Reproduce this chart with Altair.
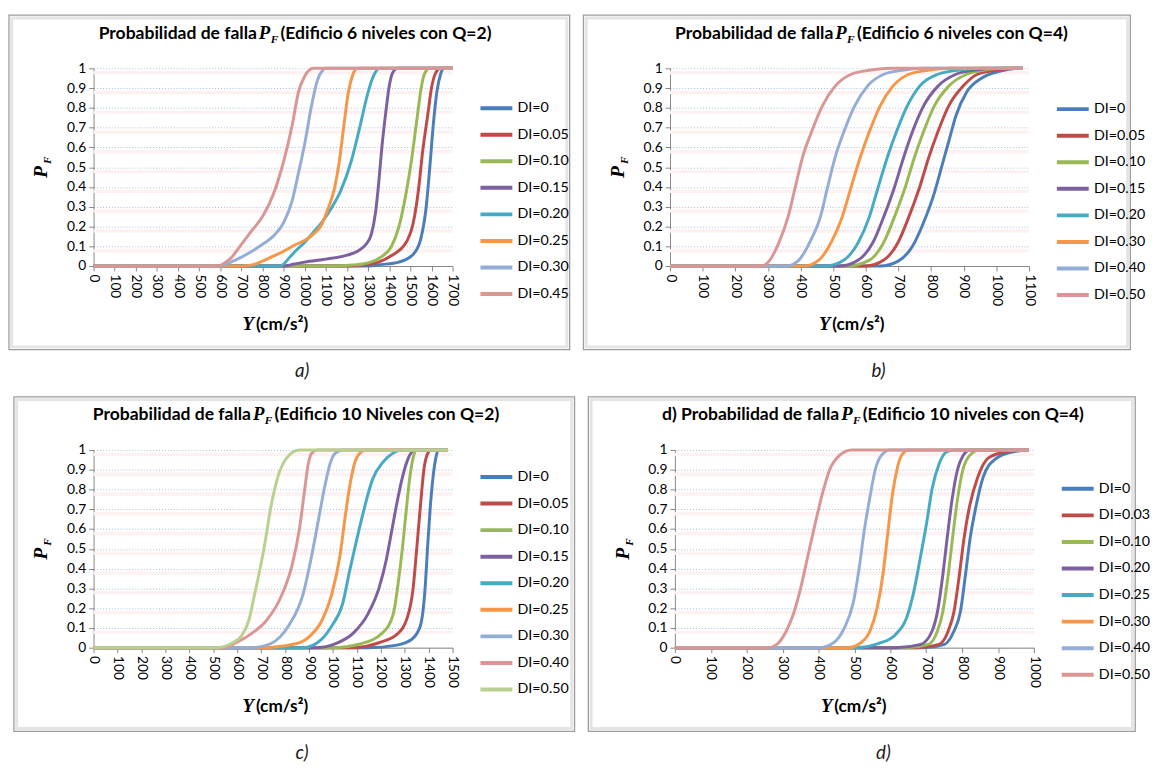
import altair as alt
import pandas as pd

W, H = 365, 201

COLORS = ["#4a7ebb", "#be4b48", "#98b954", "#7d60a0", "#46aac5",
          "#f79646", "#93aed6", "#d99694", "#b9d18f"]

Y_TICKS = [0, 0.1, 0.2, 0.3, 0.4, 0.5, 0.6, 0.7, 0.8, 0.9, 1]
PINK_BANDS = [0.1, 0.2, 0.3, 0.4, 0.5, 0.6, 0.7, 0.8, 0.9, 1]

# ---------------- panel a: Edificio 6 niveles, Q=2 ----------------
A_XTICKS = [0, 100, 200, 300, 400, 500, 600, 700, 800, 900, 1000, 1100, 1200,
            1300, 1400, 1500, 1600, 1700]
A_LABELS = ["DI=0", "DI=0.05", "DI=0.10", "DI=0.15", "DI=0.20", "DI=0.25",
            "DI=0.30", "DI=0.45"]
A_Y = [
    [0, 1300, 1360, 1446, 1514, 1549, 1575, 1592, 1609, 1626, 1643, 1660, 1700],
    [0, 1200, 1274, 1350, 1411, 1480, 1514, 1540, 1557, 1583, 1600, 1617, 1643, 1700],
    [0, 1100, 1200, 1274, 1360, 1411, 1446, 1480, 1506, 1532, 1549, 1566, 1592, 1700],
    [0, 900, 950, 1000, 1100, 1200, 1250, 1290, 1315, 1335, 1350, 1365, 1385, 1400, 1415, 1440, 1700],
    [0, 880, 900, 925, 960, 1000, 1040, 1080, 1130, 1170, 1220, 1260, 1300, 1325, 1355, 1700],
    [0, 700, 750, 800, 850, 900, 950, 1000, 1040, 1080, 1110, 1140, 1165, 1185, 1205, 1225, 1250, 1700],
    [0, 600, 650, 700, 750, 800, 850, 900, 940, 970, 1000, 1030, 1060, 1085, 1100, 1700],
    [0, 590, 620, 650, 700, 750, 800, 850, 900, 940, 970, 1000, 1040, 1700],
]
A_PF = [
    [0, 0, 0.007, 0.02, 0.06, 0.136, 0.3, 0.5, 0.72, 0.885, 0.97, 1, 1],
    [0, 0, 0.005, 0.02, 0.053, 0.12, 0.22, 0.4, 0.57, 0.77, 0.9, 0.97, 1, 1],
    [0, 0, 0.003, 0.01, 0.045, 0.1, 0.2, 0.37, 0.54, 0.75, 0.885, 0.97, 1, 1],
    [0, 0, 0.01, 0.02, 0.035, 0.055, 0.075, 0.11, 0.16, 0.27, 0.42, 0.6, 0.79, 0.91, 0.975, 1, 1],
    [0, 0, 0.01, 0.04, 0.08, 0.12, 0.17, 0.22, 0.3, 0.38, 0.53, 0.7, 0.88, 0.96, 1, 1],
    [0, 0, 0.005, 0.025, 0.05, 0.075, 0.105, 0.13, 0.16, 0.21, 0.29, 0.39, 0.54, 0.71, 0.87, 0.96, 1, 1],
    [0, 0, 0.02, 0.045, 0.075, 0.11, 0.15, 0.22, 0.33, 0.47, 0.62, 0.8, 0.94, 0.99, 1, 1],
    [0, 0, 0.015, 0.04, 0.11, 0.18, 0.25, 0.36, 0.53, 0.71, 0.88, 0.96, 1, 1],
]

# ---------------- panel b: Edificio 6 niveles, Q=4 ----------------
B_XTICKS = [0, 100, 200, 300, 400, 500, 600, 700, 800, 900, 1000, 1100]
B_LABELS = ["DI=0", "DI=0.05", "DI=0.10", "DI=0.15", "DI=0.20", "DI=0.30",
            "DI=0.40", "DI=0.50"]
B_Y = [
    [0, 644, 699, 743, 777, 810, 832, 854, 876, 909, 954, 1009, 1075, 1080],
    [0, 600, 655, 699, 732, 765, 793, 821, 854, 898, 942, 1000, 1060, 1080],
    [0, 544, 611, 655, 688, 721, 749, 777, 810, 854, 909, 960, 1020, 1080],
    [0, 522, 577, 622, 655, 688, 716, 743, 777, 821, 876, 930, 1000, 1080],
    [0, 478, 533, 577, 611, 638, 666, 694, 727, 765, 821, 880, 960, 1080],
    [0, 411, 456, 494, 528, 555, 583, 611, 644, 683, 732, 790, 860, 1080],
    [0, 356, 395, 428, 461, 483, 506, 533, 566, 605, 655, 710, 780, 1080],
    [0, 279, 306, 334, 362, 384, 406, 434, 467, 506, 555, 610, 680, 1080],
]
B_PF = [
    [0, 0, 0.025, 0.1, 0.22, 0.37, 0.5, 0.63, 0.76, 0.88, 0.95, 0.985, 1, 1],
    [0, 0, 0.03, 0.12, 0.25, 0.4, 0.55, 0.68, 0.81, 0.91, 0.97, 0.99, 1, 1],
    [0, 0, 0.03, 0.12, 0.25, 0.4, 0.55, 0.68, 0.81, 0.91, 0.97, 0.99, 1, 1],
    [0, 0, 0.03, 0.12, 0.25, 0.4, 0.55, 0.68, 0.81, 0.91, 0.97, 0.99, 1, 1],
    [0, 0, 0.03, 0.12, 0.25, 0.4, 0.55, 0.68, 0.81, 0.91, 0.97, 0.99, 1, 1],
    [0, 0, 0.03, 0.12, 0.25, 0.4, 0.55, 0.68, 0.81, 0.91, 0.97, 0.99, 1, 1],
    [0, 0, 0.03, 0.12, 0.25, 0.4, 0.55, 0.68, 0.81, 0.91, 0.97, 0.99, 1, 1],
    [0, 0, 0.03, 0.12, 0.25, 0.4, 0.55, 0.68, 0.81, 0.91, 0.97, 0.99, 1, 1],
]

# ---------------- panel c: Edificio 10 niveles, Q=2 ----------------
C_XTICKS = [0, 100, 200, 300, 400, 500, 600, 700, 800, 900, 1000, 1100, 1200,
            1300, 1400, 1500]
C_LABELS = ["DI=0", "DI=0.05", "DI=0.10", "DI=0.15", "DI=0.20", "DI=0.25",
            "DI=0.30", "DI=0.40", "DI=0.50"]
C_Y = [
    [0, 1146, 1267, 1327, 1365, 1385, 1395, 1406, 1418, 1430, 1440, 1480],
    [0, 1086, 1192, 1267, 1312, 1335, 1350, 1365, 1380, 1395, 1410, 1480],
    [0, 995, 1116, 1207, 1252, 1274, 1290, 1305, 1320, 1335, 1350, 1480],
    [0, 935, 1011, 1086, 1146, 1192, 1222, 1244, 1267, 1290, 1312, 1342, 1480],
    [0, 875, 950, 995, 1040, 1070, 1100, 1130, 1165, 1210, 1252, 1282, 1480],
    [0, 694, 845, 905, 955, 995, 1030, 1052, 1072, 1092, 1118, 1135, 1480],
    [0, 664, 739, 814, 875, 912, 943, 965, 988, 1011, 1041, 1480],
    [0, 543, 603, 664, 724, 784, 830, 860, 882, 897, 912, 935, 1480],
    [0, 513, 573, 618, 649, 671, 694, 716, 739, 769, 807, 860, 1480],
]
C_PF = [
    [0, 0, 0.013, 0.04, 0.11, 0.3, 0.5, 0.7, 0.86, 0.96, 1, 1],
    [0, 0, 0.025, 0.067, 0.157, 0.3, 0.5, 0.71, 0.9, 0.98, 1, 1],
    [0, 0, 0.02, 0.075, 0.17, 0.34, 0.5, 0.68, 0.85, 0.96, 1, 1],
    [0, 0, 0.02, 0.075, 0.17, 0.3, 0.44, 0.58, 0.73, 0.86, 0.95, 1, 1],
    [0, 0, 0.04, 0.11, 0.22, 0.39, 0.55, 0.7, 0.85, 0.94, 0.985, 1, 1],
    [0, 0, 0.02, 0.06, 0.14, 0.27, 0.47, 0.67, 0.83, 0.94, 0.99, 1, 1],
    [0, 0, 0.02, 0.11, 0.27, 0.47, 0.67, 0.81, 0.93, 0.985, 1, 1],
    [0, 0, 0.03, 0.075, 0.14, 0.26, 0.42, 0.6, 0.8, 0.93, 0.985, 1, 1],
    [0, 0, 0.02, 0.06, 0.14, 0.26, 0.39, 0.53, 0.7, 0.86, 0.96, 1, 1],
]

# ---------------- panel d: Edificio 10 niveles, Q=4 ----------------
D_XTICKS = [0, 100, 200, 300, 400, 500, 600, 700, 800, 900, 1000]
D_LABELS = ["DI=0", "DI=0.03", "DI=0.10", "DI=0.20", "DI=0.25", "DI=0.30",
            "DI=0.40", "DI=0.50"]
D_Y = [
    [0, 695, 751, 777, 795, 809, 822, 838, 858, 893, 939, 985],
    [0, 675, 736, 761, 777, 792, 805, 820, 843, 873, 919, 980, 985],
    [0, 645, 706, 731, 746, 761, 773, 787, 802, 820, 848, 985],
    [0, 614, 685, 716, 731, 746, 758, 772, 787, 802, 822, 985],
    [0, 503, 574, 614, 645, 665, 685, 701, 716, 736, 756, 777, 985],
    [0, 482, 518, 543, 563, 579, 592, 604, 616, 629, 650, 985],
    [0, 401, 442, 472, 497, 513, 528, 543, 558, 574, 599, 985],
    [0, 259, 284, 310, 330, 350, 371, 391, 411, 431, 457, 492, 985],
]
D_PF = [
    [0, 0, 0.017, 0.083, 0.18, 0.365, 0.55, 0.71, 0.86, 0.955, 0.99, 1],
    [0, 0, 0.017, 0.083, 0.18, 0.365, 0.55, 0.71, 0.86, 0.96, 0.99, 1, 1],
    [0, 0, 0.017, 0.083, 0.18, 0.365, 0.55, 0.75, 0.9, 0.97, 1, 1],
    [0, 0, 0.017, 0.083, 0.18, 0.365, 0.55, 0.75, 0.9, 0.97, 1, 1],
    [0, 0, 0.025, 0.066, 0.15, 0.28, 0.47, 0.63, 0.8, 0.93, 0.99, 1, 1],
    [0, 0, 0.025, 0.083, 0.2, 0.365, 0.565, 0.75, 0.88, 0.965, 1, 1],
    [0, 0, 0.025, 0.1, 0.23, 0.4, 0.6, 0.76, 0.9, 0.97, 1, 1],
    [0, 0, 0.017, 0.083, 0.17, 0.3, 0.47, 0.63, 0.78, 0.9, 0.97, 1, 1],
]

SANS = "Lato"
SERIF = "Liberation Serif"
BT, BB = -54, 286
TFS = 17.8   # title font size


def panel(labels, ys_list, pfs_list, xticks, pre, post, unit, caption,
          xp, legend_y, box_l, box_r, ux):
    rows = []
    for lab, ys, pfs in zip(labels, ys_list, pfs_list):
        for yv, pv in zip(ys, pfs):
            rows.append({"Y": yv, "PF": pv, "DI": lab})
    df = pd.DataFrame(rows)
    one = pd.DataFrame({"z": [0]})
    xs = alt.Scale(domain=[0, xticks[-1]], nice=False, zero=False)
    ysc = alt.Scale(domain=[0, 1], nice=False, zero=False)

    def txt(text, x, y, **kw):
        return alt.Chart(one).mark_text(text=text, **kw).encode(
            x=alt.value(x), y=alt.value(y))

    outer = alt.Chart(one).mark_rect(fillOpacity=0, stroke="#9c9c9c", strokeWidth=1.3).encode(
        x=alt.value(box_l), x2=alt.value(box_r), y=alt.value(BT), y2=alt.value(BB))
    inner = alt.Chart(one).mark_rect(fillOpacity=0, stroke="#e4e4e4", strokeWidth=3).encode(
        x=alt.value(box_l + 2.8), x2=alt.value(box_r - 2.8),
        y=alt.value(BT + 2.8), y2=alt.value(BB - 2.8))
    pink = alt.Chart(pd.DataFrame({"g": PINK_BANDS})).mark_rule(
        color="#fdf1f1", strokeWidth=3.5, yOffset=4.5).encode(
        y=alt.Y("g:Q", scale=ysc, axis=None), x=alt.value(0), x2=alt.value(W))
    lines = alt.Chart(df).mark_line(strokeWidth=3, interpolate="monotone").encode(
        x=alt.X("Y:Q", scale=xs, axis=alt.Axis(
            values=xticks, format="d", labelAngle=90, title=None, grid=False,
            labelFlush=False, labelOverlap=False, labelPadding=3)),
        y=alt.Y("PF:Q", scale=ysc, axis=alt.Axis(
            values=Y_TICKS, format=".1~f", title=None, grid=True,
            gridDash=[1, 2], gridColor="#a9bbd8", gridWidth=1,
            labelFlush=False, labelOverlap=False, labelPadding=3)),
        color=alt.Color("DI:N", scale=alt.Scale(domain=labels, range=COLORS[:len(labels)]),
                        legend=alt.Legend(
                            title=None, orient="none", legendX=391, legendY=legend_y,
                            symbolType="stroke", symbolSize=1050, symbolStrokeWidth=4,
                            labelFont=SANS, labelFontSize=14.5, labelColor="#000",
                            labelOffset=3, rowPadding=0, clipHeight=27, padding=0)),
    )
    bold = dict(font=SANS, fontWeight="bold", color="#000")
    ital = dict(font=SERIF, fontWeight="bold", fontStyle="italic", color="#000")
    layers = [
        outer, inner, pink, lines,
        txt(pre, xp - 2, -30, align="right", baseline="alphabetic", fontSize=TFS, **bold),
        txt("P", xp, -30, align="left", baseline="alphabetic", fontSize=19, **ital),
        txt("F", xp + 12, -26, align="left", baseline="alphabetic", fontSize=11.5, **ital),
        txt(post, xp + 22, -30, align="left", baseline="alphabetic", fontSize=TFS, **bold),
        txt("Y", ux, 266, align="right", baseline="alphabetic", fontSize=19, **ital),
        txt(unit, ux + 2, 266, align="left", baseline="alphabetic", fontSize=17.5, **bold),
        txt("P", -47, H / 2 + 5, angle=270, align="center", baseline="alphabetic", fontSize=20, **ital),
        txt("F", -43, H / 2 - 7, angle=270, align="center", baseline="alphabetic", fontSize=11.5, **ital),
        txt(caption, 212, 308, align="center", baseline="middle", font=SANS,
            fontStyle="italic", fontSize=19, color="#1a1a1a"),
    ]
    return alt.layer(*layers).resolve_axis(y="independent").properties(width=W, height=H)


pa = panel(A_LABELS, A_Y, A_PF, A_XTICKS, "Probabilidad de falla",
           "(Edificio 6 niveles con Q=2)", "(cm/s²)", "a)", 168, 27, -86, 484, 163)
pb = panel(B_LABELS, B_Y, B_PF, B_XTICKS, "Probabilidad de falla",
           "(Edificio 6 niveles con Q=4)", "(cm/s²)", "b)", 168, 28, -88, 468, 163)
pc = panel(C_LABELS, C_Y, C_PF, C_XTICKS, "Probabilidad de falla",
           "(Edificio 10 Niveles con Q=2)", "(cm/s²)", "c)", 162, 14, -81, 489, 163)
pd_ = panel(D_LABELS, D_Y, D_PF, D_XTICKS, "d) Probabilidad de falla",
            "(Edificio 10 niveles con Q=4)", "(cm/s²)", "d)", 169, 26, -88, 468, 160)

row1 = alt.hconcat(pa, pb, spacing=12).resolve_scale(
    x="independent", y="independent", color="independent")
row2 = alt.hconcat(pc, pd_, spacing=12).resolve_scale(
    x="independent", y="independent", color="independent")

chart = alt.vconcat(row1, row2, spacing=15).resolve_scale(
    x="independent", y="independent", color="independent"
).configure(padding=0).configure_view(stroke=None).configure_axis(
    labelFont=SANS, labelFontSize=14, labelColor="#000",
    domainColor="#868686", tickColor="#868686", tickSize=5, domainWidth=1
).properties(padding={"left": 0, "top": 0, "right": 0, "bottom": 0})

chart.save("out.html", embed_options={"renderer": "svg", "actions": False})
